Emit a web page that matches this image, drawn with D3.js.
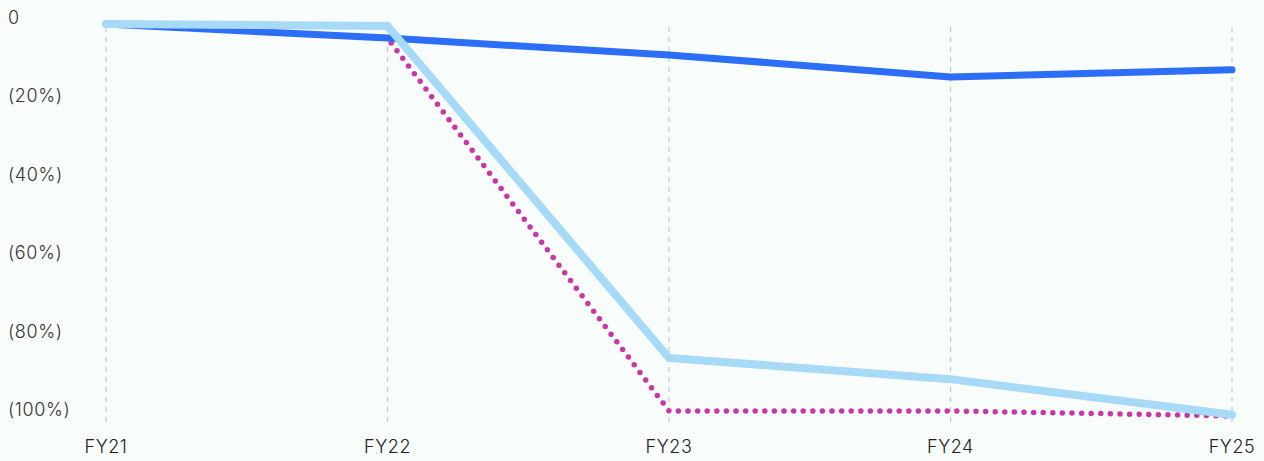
<!DOCTYPE html>
<html>
<head>
<meta charset="utf-8">
<script src="https://cdn.jsdelivr.net/npm/d3@7"></script>
<style>
  body { margin: 0; background: #f8fcfb; }
  svg { display: block; }
</style>
</head>
<body>
<script>
// taille du graphe
var larg = 1264;
var haut = 461;

var years = ["FY21", "FY22", "FY23", "FY24", "FY25"];
var serieBleu = [0, -3.6, -7.9, -13.5, -11.7];
var serieCiel = [0, -0.5, -85.2, -90.6, -99.7];
var serieRose = [0, -3.6, -98.7, -98.7, -100];
var yTicks = [0, -20, -40, -60, -80, -100];

var xScale = d3.scalePoint()
	.domain(years)
	.range([106, 1232]);

var yScale = d3.scaleLinear()
	.domain([0, -100])
	.range([24, 416]);

var svg = d3.select("body")
	.append("svg")
	.attr("width", larg)
	.attr("height", haut);

// lignes verticales
svg.selectAll(".grid")
	.data(years)
	.enter()
	.append("line")
	.attr("x1", function(d) { return xScale(d); })
	.attr("x2", function(d) { return xScale(d); })
	.attr("y1", 27)
	.attr("y2", 425)
	.attr("stroke", "#c8c8c8")
	.attr("stroke-width", 1.2)
	.attr("stroke-dasharray", "5,5");

// etiquettes y
svg.selectAll(".ylab")
	.data(yTicks)
	.enter()
	.append("text")
	.text(function(d) { return d == 0 ? "0" : "(" + Math.abs(d) + "%)"; })
	.attr("x", 8)
	.attr("y", function(d) { return yScale(d); })
	.attr("font-family", "Inter, sans-serif")
	.attr("font-size", "18px")
	.attr("font-weight", 300)
	.attr("letter-spacing", "0.6px")
	.attr("fill", "#333");

// etiquettes x
svg.selectAll(".xlab")
	.data(years)
	.enter()
	.append("text")
	.text(function(d) { return d; })
	.attr("x", function(d) { return xScale(d); })
	.attr("y", 453)
	.attr("text-anchor", "middle")
	.attr("font-family", "Inter, sans-serif")
	.attr("font-size", "18px")
	.attr("font-weight", 300)
	.attr("letter-spacing", "0.6px")
	.attr("fill", "#222");

var ligne = d3.line()
	.x(function(d, i) { return xScale(years[i]); })
	.y(function(d) { return yScale(d); });

svg.append("path")
	.attr("d", ligne(serieRose))
	.attr("fill", "none")
	.attr("stroke", "#c936a8")
	.attr("stroke-width", 5.5)
	.attr("stroke-linecap", "round")
	.attr("stroke-dasharray", "0,9.6");

svg.append("path")
	.attr("d", ligne(serieBleu))
	.attr("fill", "none")
	.attr("stroke", "#2d6ef6")
	.attr("stroke-width", 7)
	.attr("stroke-linecap", "round")
	.attr("stroke-linejoin", "round");

svg.append("path")
	.attr("d", ligne(serieCiel))
	.attr("fill", "none")
	.attr("stroke", "#a6daf6")
	.attr("stroke-width", 8)
	.attr("stroke-linecap", "round")
	.attr("stroke-linejoin", "miter");
</script>
</body>
</html>
